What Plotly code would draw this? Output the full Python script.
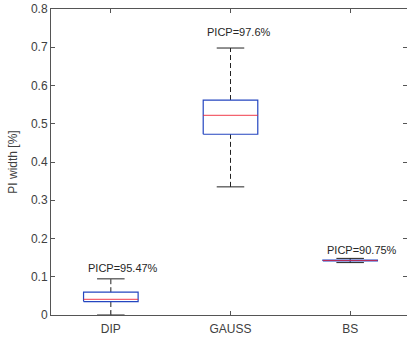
import plotly.graph_objects as go

categories = ["DIP", "GAUSS", "BS"]
lower_whisker = [0.0, 0.335, 0.137]
q1 = [0.035, 0.4726, 0.1415]
median = [0.041, 0.522, 0.1425]
q3 = [0.0596, 0.562, 0.1435]
upper_whisker = [0.0945, 0.698, 0.148]
picp_labels = ["PICP=95.47%", "PICP=97.6%", "PICP=90.75%"]
label_y = [0.1225, 0.741, 0.171]
yticks = [0, 0.1, 0.2, 0.3, 0.4, 0.5, 0.6, 0.7, 0.8]
ytick_labels = ["0", "0.1", "0.2", "0.3", "0.4", "0.5", "0.6", "0.7", "0.8"]

BOX_HW = 0.228
CAP_HW = 0.115
FONT = "Liberation Sans, Arial, sans-serif"

fig = go.Figure()
for i, cat in enumerate(categories):
    x = i + 1
    # whiskers (dashed)
    fig.add_trace(go.Scatter(x=[x, x], y=[q3[i], upper_whisker[i]], mode="lines",
                             line=dict(color="#222222", width=1, dash="5px,3px"),
                             showlegend=False, hoverinfo="skip"))
    fig.add_trace(go.Scatter(x=[x, x], y=[lower_whisker[i], q1[i]], mode="lines",
                             line=dict(color="#222222", width=1, dash="5px,3px"),
                             showlegend=False, hoverinfo="skip"))
    # caps
    for v in (upper_whisker[i], lower_whisker[i]):
        fig.add_trace(go.Scatter(x=[x - CAP_HW, x + CAP_HW], y=[v, v], mode="lines",
                                 line=dict(color="#222222", width=1),
                                 showlegend=False, hoverinfo="skip"))
    # box
    fig.add_trace(go.Scatter(x=[x - BOX_HW, x + BOX_HW, x + BOX_HW, x - BOX_HW, x - BOX_HW],
                             y=[q1[i], q1[i], q3[i], q3[i], q1[i]], mode="lines",
                             line=dict(color="#2446c0", width=1.2),
                             showlegend=False, hoverinfo="skip"))
    # median
    fig.add_trace(go.Scatter(x=[x - BOX_HW, x + BOX_HW], y=[median[i], median[i]], mode="lines",
                             line=dict(color="#ee2233", width=1.2),
                             opacity=0.7,
                             showlegend=False, hoverinfo="skip"))
    fig.add_annotation(x=x - 0.21, y=label_y[i], text=picp_labels[i], showarrow=False,
                       xanchor="left", yanchor="middle",
                       font=dict(family=FONT, size=11, color="#262626"))

fig.update_layout(
    width=407, height=343,
    margin=dict(l=51, r=0, t=9, b=28),
    paper_bgcolor="white", plot_bgcolor="white",
    font=dict(family=FONT, size=11, color="#262626"),
    xaxis=dict(range=[0.5, 3.475], tickvals=[1, 2, 3], ticktext=categories,
               showline=True, linecolor="#555555", linewidth=1, mirror="ticks",
               ticks="inside", ticklen=4, tickcolor="#555555", showgrid=False,
               zeroline=False, automargin=False, ticklabelstandoff=3,
               tickfont=dict(size=12, color="#404040")),
    yaxis=dict(range=[0, 0.8], tickvals=yticks, ticktext=ytick_labels,
               showline=True, linecolor="#555555", linewidth=1, mirror="ticks",
               ticks="inside", ticklen=4, tickcolor="#555555", showgrid=False,
               zeroline=False, automargin=False, tickfont=dict(size=12, color="#404040"),
               title=dict(text="PI width [%]", font=dict(size=12, color="#404040"), standoff=10)),
)

fig.write_html("out.html")
